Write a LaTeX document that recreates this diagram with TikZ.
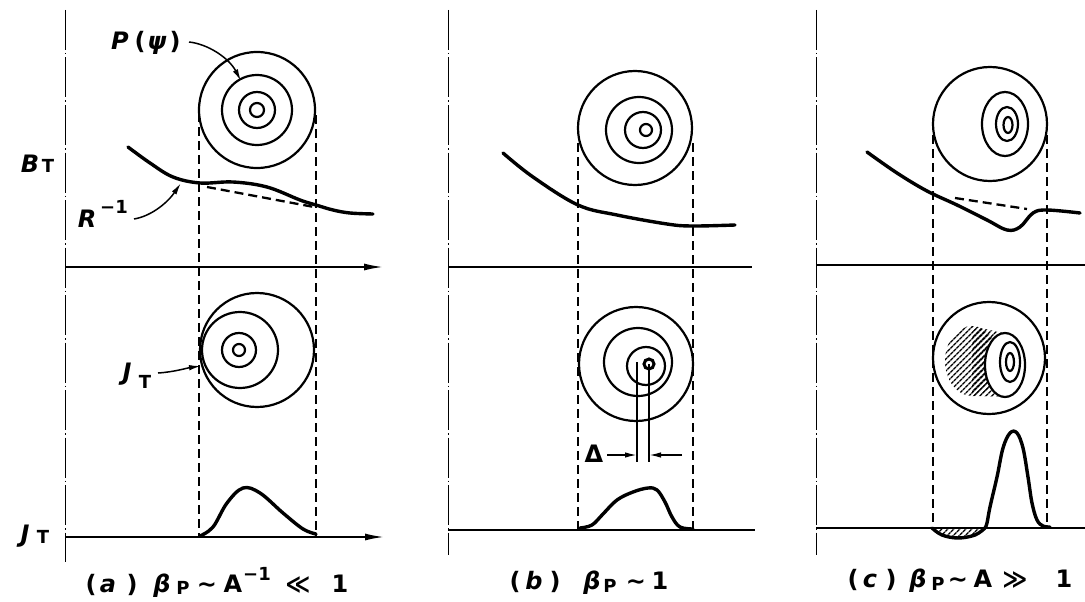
\documentclass[tikz,border=0pt]{standalone}
\usepackage{fontspec}
\setmainfont{DejaVu Sans}
\usetikzlibrary{arrows.meta,patterns.meta}
\begin{document}
\begin{tikzpicture}[x=1pt,y=-1pt,
  axisv/.style={line width=1pt, dash pattern=on 40pt off 3pt on 1.5pt off 3pt},
  axish/.style={line width=1.7pt},
  guide/.style={line width=1.9pt, dash pattern=on 9pt off 5pt},
  ring/.style={line width=2.2pt},
  bcurve/.style={line width=3.4pt, line cap=round, line join=round},
  arr/.style={line width=1.5pt, -{Latex[length=12pt,width=5.5pt]}},
  axarr/.style={axish, -{Latex[length=19pt,width=7pt]}},
  hatchfill/.style={pattern={Lines[angle=45,distance=4pt,line width=1.4pt]}},
  lbl/.style={font=\bfseries\fontsize{24}{30}\selectfont, inner sep=0pt, anchor=base},
  subtxt/.style={font=\bfseries\fontsize{18}{20}\selectfont, inner sep=0pt, anchor=base},
  captxt/.style={font=\bfseries\fontsize{24}{30}\selectfont, inner sep=0pt, anchor=base}]
\useasboundingbox (0,0) rectangle (1085,602);
\fill[white] (0,0) rectangle (1085,602);

% ================= panel (a) =================
\draw[axisv] (65,10) -- (65,562);
\draw[axarr] (65,267) -- (383,267);
\draw[axarr] (65,537) -- (384,537);
% guides
\draw[guide] (199,113) -- (199,537);
\draw[guide] (316,115) -- (316,537);
% upper circles
\draw[ring] (257,110) circle[radius=58pt];
\draw[ring] (257,110) circle[radius=35pt];
\draw[ring] (257,110) circle[radius=18pt];
\draw[ring] (257,110) circle[radius=7pt];
% B curve
\draw[bcurve] plot[smooth, tension=0.6] coordinates {(128,147) (150,163) (173,177) (200,183) (233,182) (267,187) (300,200) (316,205) (333,210) (350,213) (373,214)};
\draw[guide, line width=2.3pt] (207,187) -- (314,207);
% lower circles
\draw[ring] (257,350) circle[radius=57pt];
\draw[ring] (240,350) circle[radius=38pt];
\draw[ring] (239,350) circle[radius=17pt];
\draw[ring] (239,350) circle[radius=6pt];
% J bump
\draw[bcurve] plot[smooth, tension=0.6] coordinates {(200,536) (213,527) (227,503) (243,488) (260,493) (283,513) (303,529) (316,534)};
% labels
\node[lbl] (bB) at (30,172) {\itshape B};
\node[subtxt] (bT) at (48,172) {T};
\node[lbl] (pP) at (120,50) {\itshape P};
\node[lbl] (pL) at (140,50) {(};
\node[lbl] (pPsi) at (157,50) {\itshape ψ};
\node[lbl] (pR) at (175,50) {)};
\coordinate (pA) at (189,42);
\coordinate (pTip) at (241,81);
\draw[arr] (pA) .. controls (208,44) and (229,58) .. (pTip);
\node[lbl] (rR) at (87,227) {\itshape R};
\node[subtxt] (rS) at (114,213) {−1};
\coordinate (rA) at (134,219);
\coordinate (rTip) at (181,183);
\draw[arr] (rA) .. controls (152,216) and (168,202) .. (rTip);
\node[lbl] (jJ) at (127,380) {\itshape J};
\node[subtxt] (jT) at (145,388) {T};
\coordinate (jA) at (158,373);
\coordinate (jTip) at (201,366);
\draw[arr] (jA) .. controls (174,372) and (187,368) .. (jTip);
\node[lbl] (aJ) at (25,542) {\itshape J};
\node[subtxt] (aT) at (43,543) {T};
% caption (a)
\node[captxt] (ca1) at (91,592) {(};
\node[captxt] (ca2) at (108,592) {\itshape a};
\node[captxt] (ca3) at (132,592) {)};
\node[captxt] (ca4) at (162,592) {\itshape β};
\node[subtxt] (ca5) at (183,594) {P};
\node[captxt] (ca6) at (207,592) {∼};
\node[captxt] (ca7) at (233,592) {A};
\node[subtxt] (ca8) at (257,580) {−1};
\node[captxt] (ca9) at (298,592) {≪};
\node[captxt] (ca10) at (340,592) {1};

% ================= panel (b) =================
\draw[axisv] (448,10) -- (448,555);
\draw[axish] (448,267) -- (752,267);
\draw[axish] (448,530) -- (755,530);
\draw[guide, line width=1.5pt] (578,143) -- (578,530);
\draw[guide, line width=1.5pt] (693,143) -- (693,530);
% upper circles
\draw[ring] (635,128) circle[radius=57pt];
\draw[ring] (639,130) circle[radius=33pt];
\draw[ring] (643,130) circle[radius=18pt];
\draw[ring] (646,130) circle[radius=6pt];
\draw[bcurve] plot[smooth, tension=0.6] coordinates {(503,153) (533,177) (578,205) (617,215) (667,224) (692,226) (735,225)};
% lower circles
\draw[ring] (636,364) circle[radius=57pt];
\draw[ring] (638,362) circle[radius=34pt];
\draw[ring] (646,366) circle[radius=19pt];
\draw[line width=3pt] (649,364) circle[radius=5pt];
% Delta
\draw[line width=1.5pt] (637,362) -- (637,462);
\draw[line width=1.5pt] (649,364) -- (649,462);
\node[lbl] (dD) at (594,462) {Δ};
\coordinate (dL) at (607,455);
\coordinate (dLt) at (637,455);
\coordinate (dR) at (682,455);
\coordinate (dRt) at (649,455);
\draw[arr] (dL) -- (dLt);
\draw[arr] (dR) -- (dRt);
% bump
\draw[bcurve] plot[smooth, tension=0.6] coordinates {(580,528) (592,525) (603,514) (617,500) (633,492) (648,488) (657,490) (665,502) (672,517) (680,527) (693,529)};
% caption (b)
\node[captxt] (cb1) at (515,589) {(};
\node[captxt] (cb2) at (534,589) {\itshape b};
\node[captxt] (cb3) at (555,589) {)};
\node[captxt] (cb4) at (592,589) {\itshape β};
\node[subtxt] (cb5) at (610,592) {P};
\node[captxt] (cb6) at (636,589) {∼};
\node[captxt] (cb7) at (660,589) {1};

% ================= panel (c) =================
\draw[axisv] (816,10) -- (816,555);
\draw[axish] (816,265) -- (1085,265);
\draw[axish] (816,528) -- (1085,528);
\draw[guide] (933,135) -- (933,528);
\draw[guide] (1047,135) -- (1047,528);
% upper circles
\draw[ring] (990,124) circle[radius=57pt];
\draw[ring] (1005,124) ellipse[x radius=23pt, y radius=32pt];
\draw[ring] (1007,124) ellipse[x radius=11pt, y radius=17pt];
\draw[ring] (1008,125) ellipse[x radius=4.5pt, y radius=8pt];
\draw[bcurve] plot[smooth, tension=0.6] coordinates {(867,152) (897,173) (927,191) (957,205) (987,220) (1007,230) (1020,227) (1033,213) (1047,210) (1080,213)};
\draw[guide, line width=2.3pt] (955,198) -- (1027,209);
% lower circles
\draw[ring] (989,358) circle[radius=56pt];
\fill[hatchfill] (972,361) ellipse[x radius=27pt, y radius=35pt];
\fill[hatchfill] (972,326) -- (1003,333) -- (1007,397) -- (972,396) -- cycle;
\draw[ring, fill=white] (1005,365) ellipse[x radius=20pt, y radius=32pt];
\draw[ring] (1010,362) ellipse[x radius=10pt, y radius=20pt];
\draw[ring] (1010,362) ellipse[x radius=4pt, y radius=9pt];
% bump
\fill[hatchfill] plot[smooth, tension=0.6] coordinates {(932,528) (942,535) (958,538) (975,535) (985,528)} -- cycle;
\draw[bcurve] plot[smooth, tension=0.6] coordinates {(932,528) (942,535) (958,538) (975,535) (985,528)};
\draw[bcurve] plot[smooth, tension=0.6] coordinates {(985,528) (987,523) (990,507) (997,477) (1003,448) (1010,433) (1017,433) (1023,448) (1028,477) (1032,503) (1037,520) (1043,526) (1050,527)};
% caption (c)
\node[captxt] (cc1) at (853,587) {(};
\node[captxt] (cc2) at (870,587) {\itshape c};
\node[captxt] (cc3) at (891,587) {)};
\node[captxt] (cc4) at (918,587) {\itshape β};
\node[subtxt] (cc5) at (938,590) {P};
\node[captxt] (cc6) at (958,587) {∼};
\node[captxt] (cc7) at (983,587) {A};
\node[captxt] (cc8) at (1015,587) {≫};
\node[captxt] (cc9) at (1064,587) {1};
\end{tikzpicture}
\end{document}
